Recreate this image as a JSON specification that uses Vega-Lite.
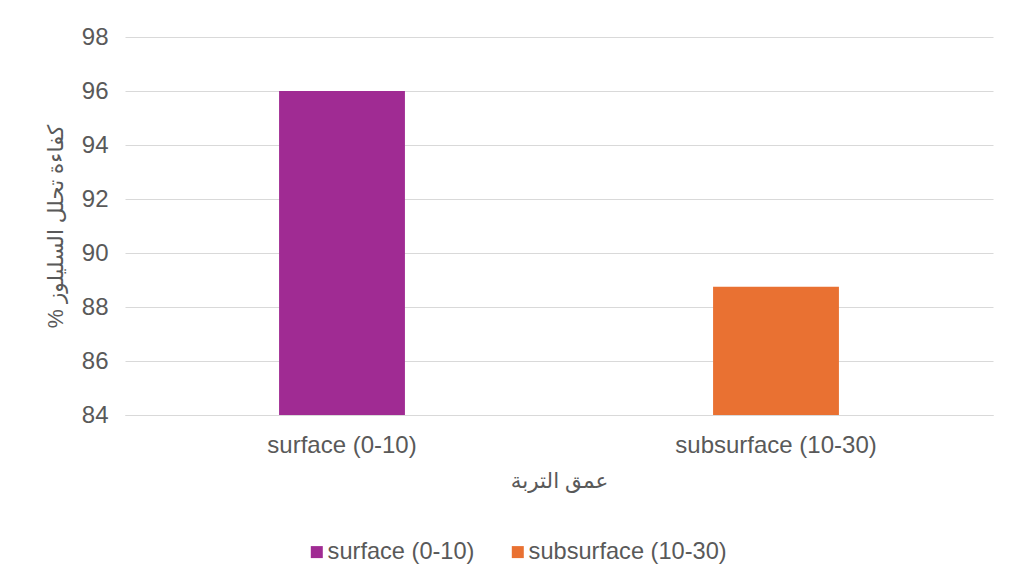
{
  "$schema": "https://vega.github.io/schema/vega-lite/v6.json",
  "autosize": "none",
  "width": 868,
  "height": 378,
  "padding": {"left": 125, "top": 37, "right": 21, "bottom": 169},
  "background": "#ffffff",
  "data": {
    "values": [
      {"depth": "surface (0-10)", "efficiency": 96},
      {"depth": "subsurface (10-30)", "efficiency": 88.75}
    ]
  },
  "mark": {"type": "bar", "clip": true},
  "encoding": {
    "x": {
      "field": "depth",
      "type": "nominal",
      "sort": null,
      "title": "عمق التربة",
      "scale": {"paddingInner": 0.71, "paddingOuter": 0.355},
      "axis": {
        "labelAngle": 0,
        "labelLimit": 400,
        "ticks": false,
        "labelPadding": 18,
        "titlePadding": 13,
        "domainColor": "#d9d9d9",
        "domainWidth": 1
      }
    },
    "y": {
      "field": "efficiency",
      "type": "quantitative",
      "title": "% كفاءة تحلل السليلوز",
      "scale": {"domain": [84, 98], "zero": false, "nice": false},
      "axis": {
        "values": [84, 86, 88, 90, 92, 94, 96, 98],
        "ticks": false,
        "domain": false,
        "grid": true,
        "gridColor": "#d9d9d9",
        "gridWidth": 1,
        "labelPadding": 17,
        "titlePadding": 14
      }
    },
    "color": {
      "field": "depth",
      "type": "nominal",
      "sort": null,
      "scale": {
        "domain": ["surface (0-10)", "subsurface (10-30)"],
        "range": ["#a02b93", "#e97132"]
      },
      "legend": {
        "orient": "none",
        "legendX": 180,
        "legendY": 503,
        "direction": "horizontal",
        "title": null,
        "symbolType": "square",
        "symbolSize": 144,
        "symbolStrokeWidth": 0,
        "labelOffset": -1,
        "columnPadding": 31
      }
    }
  },
  "config": {
    "view": {"stroke": null},
    "font": "Liberation Sans, DejaVu Sans, sans-serif",
    "axis": {
      "labelFont": "Liberation Sans, DejaVu Sans, sans-serif",
      "titleFont": "Liberation Sans, DejaVu Sans, sans-serif",
      "labelFontSize": 24,
      "titleFontSize": 21.5,
      "labelColor": "#595959",
      "titleColor": "#595959",
      "titleFontWeight": "normal"
    },
    "legend": {
      "labelFont": "Liberation Sans, DejaVu Sans, sans-serif",
      "labelFontSize": 23.6,
      "labelColor": "#595959",
      "labelLimit": 400
    }
  }
}
